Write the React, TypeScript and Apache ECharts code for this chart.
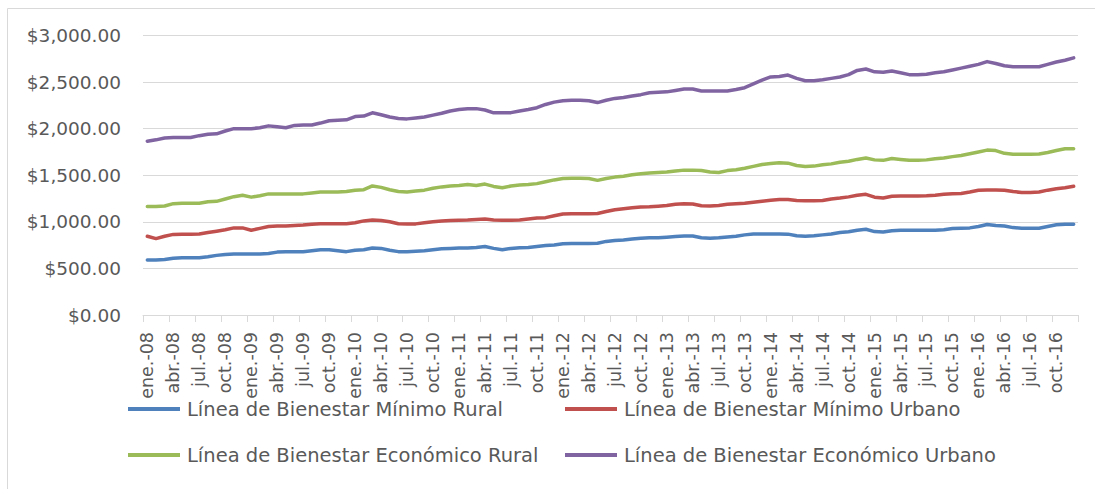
import React, { useEffect, useRef } from "react";
import * as echarts from "echarts";

const monthAbbr = ["ene.", "feb.", "mar.", "abr.", "may.", "jun.", "jul.", "ago.", "sep.", "oct.", "nov.", "dic."];
const years = ["08", "09", "10", "11", "12", "13", "14", "15", "16"];
const categories: string[] = [];
years.forEach((y) => monthAbbr.forEach((m) => categories.push(`${m}-${y}`)));

const seriesNames = [
  "Línea de Bienestar Mínimo Rural",
  "Línea de Bienestar Mínimo Urbano",
  "Línea de Bienestar Económico Rural",
  "Línea de Bienestar Económico Urbano",
];
const seriesColors = ["#4F81BD", "#C0504D", "#9BBB59", "#8064A2"];

const minimoRural = [
  590, 590, 595, 610, 615, 615, 615, 625, 640, 650, 655, 655,
  655, 655, 660, 675, 680, 680, 680, 690, 700, 700, 690, 680,
  695, 700, 720, 715, 695, 680, 680, 685, 690, 700, 710, 715,
  718, 720, 725, 735, 715, 700, 715, 722, 725, 735, 745, 752,
  765, 768, 768, 768, 770, 790, 800, 805, 815, 825, 828, 830,
  835, 842, 848, 848, 830, 825, 828, 838, 845, 860, 870, 870,
  870, 870, 868, 850, 845, 850, 860, 870, 885, 893, 910, 920,
  895, 890, 905, 910, 910, 910, 910, 910, 915, 928, 932, 935,
  950, 972, 960, 955, 938, 930, 930, 932, 950, 968, 975, 975,
];
const minimoUrbano = [
  845, 820, 845, 865, 868, 868, 870, 885, 900, 915, 935, 935,
  910, 930, 950, 955, 955, 960, 965, 975, 980, 980, 980, 980,
  990, 1010, 1020, 1015, 1000, 980, 978, 978, 990, 1000, 1010, 1015,
  1018, 1020, 1025, 1030, 1020, 1018, 1018, 1020, 1030, 1040, 1045, 1065,
  1085, 1088, 1088, 1088, 1090, 1110, 1130, 1140, 1150, 1160, 1162, 1168,
  1175, 1188, 1195, 1192, 1172, 1170, 1175, 1188, 1195, 1200, 1210, 1222,
  1232, 1240, 1240, 1228, 1225, 1225, 1228, 1245, 1255, 1268, 1285, 1295,
  1265, 1255, 1275, 1278, 1278, 1278, 1280, 1285, 1295, 1302, 1305, 1320,
  1338, 1342, 1342, 1340, 1325, 1315, 1315, 1320, 1340, 1355, 1365, 1382,
];
const economicoRural = [
  1165, 1165, 1170, 1195, 1200, 1200, 1200, 1215, 1220, 1245, 1270, 1285,
  1265, 1280, 1300, 1300, 1300, 1300, 1300, 1310, 1320, 1320, 1320, 1325,
  1340, 1345, 1385, 1370, 1345, 1325, 1320, 1330, 1340, 1360, 1375, 1385,
  1390, 1400, 1390, 1405, 1380, 1365, 1385, 1395, 1400, 1410, 1430, 1450,
  1465, 1468, 1468, 1465, 1445, 1465, 1480, 1490, 1505, 1515, 1525, 1530,
  1535, 1545, 1555, 1555, 1550, 1535, 1530, 1550, 1560, 1575, 1595, 1615,
  1625, 1635, 1630, 1605, 1595, 1598, 1612, 1622, 1640, 1650, 1670, 1685,
  1665, 1660, 1680, 1670, 1660, 1660, 1665, 1678, 1685, 1700, 1712, 1730,
  1750, 1770, 1765, 1735, 1725, 1725, 1725, 1728, 1745, 1765, 1785, 1785,
];
const economicoUrbano = [
  1865, 1880, 1900, 1905, 1905, 1905, 1925, 1940, 1945, 1975, 2000, 2000,
  2000, 2010, 2030, 2020, 2010, 2035, 2040, 2040, 2060, 2085, 2090, 2095,
  2130, 2135, 2170, 2150, 2125, 2110, 2105, 2115, 2125, 2145, 2165, 2190,
  2205, 2215, 2215, 2200, 2170, 2170, 2172, 2190, 2205, 2225, 2260, 2285,
  2300, 2305, 2305, 2300, 2280, 2305, 2325, 2335, 2350, 2365, 2385, 2390,
  2395, 2410, 2425, 2425, 2405, 2405, 2405, 2405, 2420, 2440, 2480, 2520,
  2555, 2560, 2575, 2540, 2515, 2515, 2525, 2540, 2555, 2580, 2625, 2640,
  2610, 2605, 2618, 2600, 2580, 2578, 2585, 2600, 2610, 2630, 2650, 2670,
  2690, 2720, 2700, 2675, 2665, 2665, 2665, 2665, 2690, 2715, 2735, 2760,
];
const seriesValues = [minimoRural, minimoUrbano, economicoRural, economicoUrbano];

const FONT = "DejaVu Sans";
const TEXT = "#595959";
const GRID = "#d9d9d9";

export default function App() {
  const ref = useRef<HTMLDivElement>(null);
  useEffect(() => {
    if (!ref.current) return;
    const chart = echarts.init(ref.current, undefined, { renderer: "svg" });
    const legendPos = [
      { left: 128, top: 399 },
      { left: 565, top: 399 },
      { left: 128, top: 445 },
      { left: 565, top: 445 },
    ];
    chart.setOption({
      animation: false,
      backgroundColor: "#ffffff",
      graphic: [
        {
          type: "rect",
          shape: { x: 7.5, y: 8.5, width: 1100, height: 500 },
          style: { fill: "none", stroke: GRID, lineWidth: 1 },
          silent: true,
        },
      ],
      legend: seriesNames.map((n, i) => ({
        left: legendPos[i].left,
        top: legendPos[i].top,
        data: [n],
        icon: "rect",
        itemWidth: 52,
        itemHeight: 4,
        itemGap: 6,
        padding: 0,
        selectedMode: false,
        textStyle: { fontFamily: FONT, fontSize: 19.5, color: TEXT, padding: [0, 0, 0, 2] },
      })),
      grid: { left: 143, right: 17, top: 35.5, bottom: 174, containLabel: false },
      xAxis: {
        type: "category",
        data: categories,
        boundaryGap: true,
        axisLine: { lineStyle: { color: GRID, width: 1 } },
        axisTick: { show: true, interval: 2, length: 7, lineStyle: { color: GRID } },
        axisLabel: {
          interval: 2,
          rotate: 90,
          margin: 17,
          fontFamily: FONT,
          fontSize: 17.5,
          color: TEXT,
        },
        splitLine: { show: false },
      },
      yAxis: {
        type: "value",
        min: 0,
        max: 3000,
        interval: 500,
        axisLine: { show: false },
        axisTick: { show: false },
        splitLine: { lineStyle: { color: GRID, width: 1 } },
        axisLabel: {
          margin: 22,
          fontFamily: FONT,
          fontSize: 18.5,
          color: TEXT,
          formatter: (v: number) =>
            "$" + v.toLocaleString("en-US", { minimumFractionDigits: 2, maximumFractionDigits: 2 }),
        },
      },
      series: seriesNames.map((n, i) => ({
        name: n,
        type: "line",
        data: seriesValues[i],
        showSymbol: false,
        symbol: "none",
        color: seriesColors[i],
        lineStyle: { width: 3.5, color: seriesColors[i], cap: "round", join: "round" },
      })),
    });
    return () => chart.dispose();
  }, []);
  return (
    <div
      ref={ref}
      style={{ position: "fixed", left: 0, top: 0, width: 1095, height: 489 }}
    />
  );
}
